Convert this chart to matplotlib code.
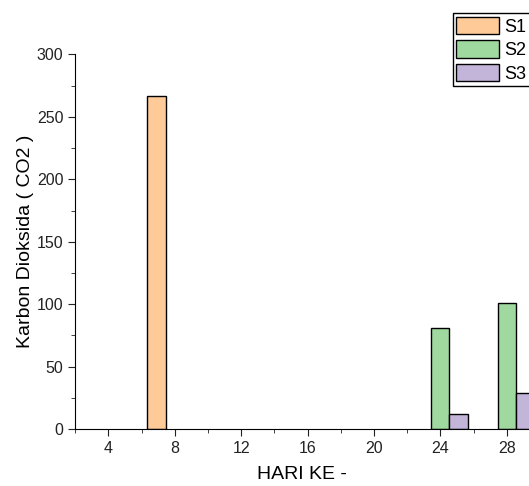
import numpy as np
import matplotlib.pyplot as plt
from matplotlib.ticker import MultipleLocator

plt.rcParams['font.family'] = ['Liberation Sans', 'DejaVu Sans']

# data
days = [8, 24, 28]
s1 = [267, 0, 0]
s2 = [0, 81, 101]
s3 = [0, 12, 29]
series = [("S1", s1, "#fdca98"), ("S2", s2, "#a0d9a0"), ("S3", s3, "#c3b4d9")]

fig = plt.figure(figsize=(5.29, 4.86), dpi=100)
ax = fig.add_axes([0.142, 0.117, 0.858, 0.771])

w = 1.1
for i, (name, vals, col) in enumerate(series):
    xs = np.array(days) + (i - 1) * w
    vals = np.array(vals)
    keep = vals > 0
    ax.bar(xs[keep], vals[keep], width=w, color=col, edgecolor="black", linewidth=1.0, label=name)

ax.set_xlim(2, 29.34)
ax.set_ylim(0, 300)
ax.xaxis.set_major_locator(MultipleLocator(4))
ax.xaxis.set_minor_locator(MultipleLocator(2))
ax.yaxis.set_major_locator(MultipleLocator(50))
ax.yaxis.set_minor_locator(MultipleLocator(25))
ax.tick_params(which="both", direction="out", labelsize=11.5, colors="#222222")
ax.tick_params(which="major", length=5)
ax.tick_params(which="minor", length=3)
ax.spines["top"].set_visible(False)
ax.spines["right"].set_visible(False)
ax.set_xlabel("HARI KE -", fontsize=14, labelpad=7)
ax.set_ylabel("Karbon Dioksida ( CO2 )", fontsize=14, labelpad=2)

fig.legend(loc="upper left", bbox_to_anchor=(0.856, 0.973), fontsize=13,
           frameon=True, fancybox=False, edgecolor="black", framealpha=1,
           handlelength=2.37, handleheight=1.1, labelspacing=0.26,
           borderpad=0.2, handletextpad=0.3, borderaxespad=0)

fig.savefig("out.png", dpi=100)
